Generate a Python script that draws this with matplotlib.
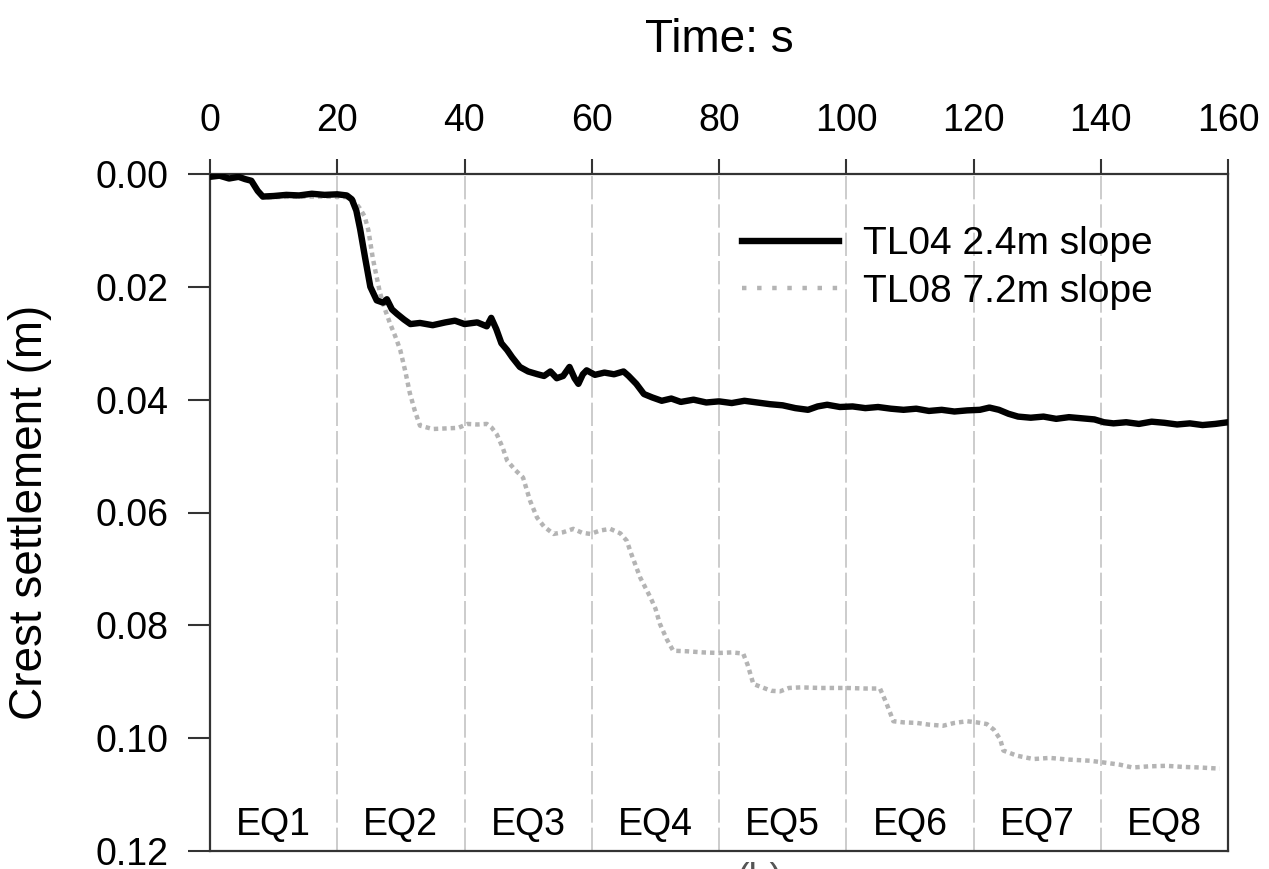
import matplotlib
matplotlib.use("Agg")
import matplotlib.pyplot as plt
from matplotlib.lines import Line2D

plt.rcParams['font.family'] = ['Liberation Sans', 'DejaVu Sans']

# Crest settlement records (time in s, settlement in m)
tl04_time = [0, 1.5, 3, 4.5, 5.5, 6.5, 7.5, 8.3, 10, 12, 14, 16, 18, 20, 21.5,
             22.3, 23, 23.6, 24.4, 25.2, 26.2, 27.2, 27.8, 28.6, 29.4, 30.5, 31.5,
             33, 35, 37, 38.5, 40, 42, 43.5, 44.2, 45, 45.8, 46.7, 47.5, 48.7, 50,
             51.5, 52.5, 53.5, 54.5, 55.5, 56.5, 57.3, 57.9, 58.6, 59.2, 60.5, 62,
             63.5, 65, 65.8, 67, 68.2, 69.5, 71, 72.5, 74, 76, 78, 80, 82, 84, 86,
             88, 90, 92, 94, 95.5, 97, 99, 101, 103, 105, 107, 109, 111, 113, 115,
             117, 119, 121, 122.5, 124, 125.5, 127, 129, 131, 133, 135, 137, 139,
             140.5, 142, 144, 146, 148, 150, 152, 154, 156, 158, 160]
tl04_settle = [0.0005, 0.0003, 0.0008, 0.0005, 0.0009, 0.0012, 0.0030, 0.0040,
               0.0039, 0.0037, 0.0038, 0.0035, 0.0037, 0.0036, 0.0038,
               0.0045, 0.0065, 0.0098, 0.0150, 0.0200, 0.0224, 0.0228, 0.0222,
               0.0240, 0.0248, 0.0258, 0.0266,
               0.0264, 0.0268, 0.0263, 0.0260, 0.0266, 0.0263, 0.0270, 0.0255,
               0.0275, 0.0300, 0.0312, 0.0325, 0.0342, 0.0350,
               0.0355, 0.0358, 0.0350, 0.0362, 0.0358, 0.0342, 0.0362, 0.0372,
               0.0355, 0.0348, 0.0356, 0.0352,
               0.0355, 0.0350, 0.0358, 0.0372, 0.0390, 0.0396, 0.0402, 0.0398,
               0.0404, 0.0400, 0.0405, 0.0403, 0.0406, 0.0402, 0.0405,
               0.0408, 0.0410, 0.0415, 0.0418, 0.0412, 0.0409, 0.0413, 0.0412,
               0.0415, 0.0413, 0.0416, 0.0418, 0.0416, 0.0420, 0.0418,
               0.0421, 0.0419, 0.0418, 0.0414, 0.0418, 0.0425, 0.0430, 0.0432,
               0.0430, 0.0434, 0.0431, 0.0433, 0.0435,
               0.0440, 0.0442, 0.0440, 0.0443, 0.0439, 0.0441, 0.0444, 0.0442,
               0.0445, 0.0443, 0.0440]

tl08_time = [0, 1.5, 3, 4.5, 5.5, 6.5, 7.5, 8.3, 10, 14, 18, 21.5,
             22.5, 23.5, 24.3, 24.9, 25.6, 26.7, 27.5, 28.3, 29.2, 29.9, 30.7,
             31.4, 32.2, 33, 35, 37, 39, 40.5, 42, 43.5, 44.3, 45.1, 46, 46.7,
             48, 49.2, 50.3, 51.4, 52.5, 54, 55.5, 57.1, 58.5, 59.8, 61.3, 62.9,
             64.5, 65.5, 66.2, 67.6, 69.2, 70, 70.7, 71.8, 72.8, 75, 77.5, 80,
             82, 83.8, 84.5, 85.4, 86.8, 88.2, 89.6, 91, 92.8, 96, 100, 103,
             105.3, 106.2, 106.9, 107.4, 109, 111.1, 113, 115.2, 117, 119, 120.5,
             122.1, 123.2, 124.2, 124.7, 126.8, 129.4, 132, 135, 138.3, 140.4,
             143, 145, 147.5, 150.3, 153, 155.6, 158.7]
tl08_settle = [0.0005, 0.0003, 0.0008, 0.0005, 0.0009, 0.0012, 0.0030, 0.0042,
               0.0041, 0.0040, 0.0040, 0.0041,
               0.0046, 0.0060, 0.0075, 0.0100, 0.0150, 0.0210, 0.0240, 0.0265,
               0.0290, 0.0312, 0.0350,
               0.0388, 0.0420, 0.0446, 0.0452, 0.0451, 0.0450, 0.0443, 0.0444,
               0.0443, 0.0450, 0.0462, 0.0485, 0.0508,
               0.0525, 0.0538, 0.0579, 0.0609, 0.0625, 0.0638, 0.0635, 0.0629,
               0.0636, 0.0638, 0.0632, 0.0629,
               0.0637, 0.0650, 0.0673, 0.0715, 0.0750, 0.0770, 0.0797, 0.0825,
               0.0845, 0.0846, 0.0848, 0.0849,
               0.0848, 0.0850, 0.0870, 0.0904, 0.0910, 0.0916, 0.0917, 0.0911,
               0.0910, 0.0911, 0.0911, 0.0912,
               0.0912, 0.0935, 0.0955, 0.0970, 0.0972, 0.0973, 0.0976, 0.0978,
               0.0973, 0.0970, 0.0972,
               0.0975, 0.0985, 0.1002, 0.1022, 0.1031, 0.1037, 0.1035, 0.1038,
               0.1040, 0.1043,
               0.1047, 0.1052, 0.1050, 0.1049, 0.1051, 0.1052, 0.1054]

event_bounds = [20, 40, 60, 80, 100, 120, 140]
event_labels = ["EQ1", "EQ2", "EQ3", "EQ4", "EQ5", "EQ6", "EQ7", "EQ8"]
x_ticks = [0, 20, 40, 60, 80, 100, 120, 140, 160]
y_ticks = [0.00, 0.02, 0.04, 0.06, 0.08, 0.10, 0.12]

fig = plt.figure(figsize=(12.69, 8.69), dpi=100)
ax = fig.add_axes([210 / 1269, 1 - 851 / 869, (1228 - 210) / 1269, (851 - 174) / 869])

# Separators between successive shaking events
for b in event_bounds:
    ax.axvline(b, color="#c4c4c4", lw=1.2, linestyle=(0, (14, 3)), zorder=1)

ax.plot(tl04_time, tl04_settle, color="black", lw=4.6, zorder=3,
        solid_joinstyle="round")
ax.plot(tl08_time, tl08_settle, color="#b4b4b4", lw=3.2, linestyle=(0, (1, 0.9)),
        zorder=2)

ax.set_xlim(0, 160)
ax.set_ylim(0.12, 0.0)
ax.xaxis.tick_top()
ax.set_xticks(x_ticks)
ax.set_yticks(y_ticks)
ax.set_yticklabels([f"{v:.2f}" for v in y_ticks])
ax.tick_params(axis="x", which="both", direction="out", length=11, width=1.5,
               labelsize=27, pad=14, color="#333333", top=True, bottom=False)
ax.tick_params(axis="y", which="both", direction="out", length=16, width=1.5,
               labelsize=27, pad=14, color="#333333", right=False)
for sp in ax.spines.values():
    sp.set_linewidth(1.6)
    sp.set_color("#333333")

# Event names along the bottom of each window
edges = [0] + event_bounds + [160]
for i, name in enumerate(event_labels):
    xc = (edges[i] + edges[i + 1]) / 2
    ax.text(xc, 0.1154, name, ha="center", va="center", fontsize=27)

handles = [Line2D([], [], color="black", lw=4.6),
           Line2D([], [], color="#b4b4b4", lw=3.2, linestyle=(0, (1, 2.4)))]
ax.legend(handles, ["TL04 2.4m slope", "TL08 7.2m slope"], loc="upper left",
          bbox_to_anchor=(0.5226, 0.923), frameon=False, fontsize=28,
          handlelength=2.5, handletextpad=0.6, labelspacing=0.3,
          borderpad=0, borderaxespad=0)

fig.text(719 / 1269, 1 - 40 / 869, "Time: s", ha="center", va="center", fontsize=33)
fig.text(30 / 1269, 1 - 512 / 869, "Crest settlement (m)", ha="center", va="center",
         rotation=90, fontsize=33)
fig.text(760 / 1269, 1 - 862 / 869, "(b)", ha="center", va="top", fontsize=27,
         color="#555555")

fig.savefig("out.png", dpi=100)
